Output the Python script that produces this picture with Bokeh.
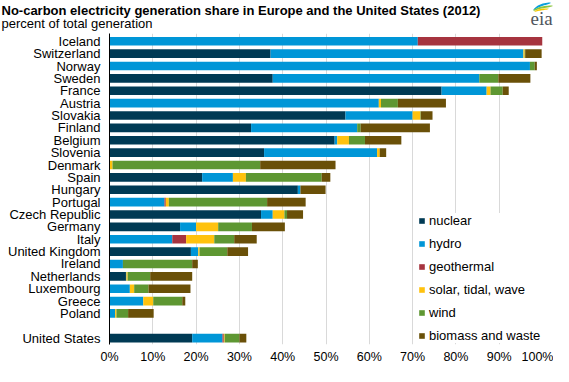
from bokeh.plotting import figure
from bokeh.layouts import column
from bokeh.models import (ColumnDataSource, Range1d, FixedTicker, PrintfTickFormatter,
                          Label, Legend, LegendItem, PolyAnnotation)
from bokeh.embed import file_html
from bokeh.resources import INLINE

countries = ["Iceland", "Switzerland", "Norway", "Sweden", "France", "Austria", "Slovakia",
             "Finland", "Belgium", "Slovenia", "Denmark", "Spain", "Hungary", "Portugal",
             "Czech Republic", "Germany", "Italy", "United Kingdom", "Ireland", "Netherlands",
             "Luxembourg", "Greece", "Poland", "United States"]
nuclear    = [0, 37.2, 0, 37.7, 76.7, 0, 54.5, 32.7, 52.0, 35.7, 0, 21.4, 43.5, 0, 35.0, 16.3, 0, 18.8, 0, 3.8, 0, 0, 0, 19.1]
hydro      = [71.2, 58.4, 97.1, 47.7, 10.4, 62.2, 15.5, 24.5, 0.6, 26.1, 0.1, 7.1, 0.6, 12.7, 2.7, 3.7, 14.5, 1.7, 3.1, 0.1, 4.7, 7.8, 1.3, 7.0]
geothermal = [28.8, 0, 0, 0, 0, 0, 0, 0, 0, 0, 0, 0, 0, 0.3, 0, 0, 3.2, 0, 0, 0, 0, 0, 0, 0.3]
solar      = [0, 0.3, 0, 0, 0.9, 0.5, 1.8, 0, 2.7, 0.6, 0.6, 3.0, 0, 0.7, 2.7, 5.1, 6.5, 0.3, 0, 0.3, 1.0, 2.3, 0.3, 0.2]
wind       = [0, 0.1, 1.1, 4.4, 2.8, 3.9, 0.1, 0.8, 3.7, 0, 34.1, 17.5, 0, 22.7, 0.6, 7.8, 4.6, 6.4, 16.0, 5.2, 3.3, 6.7, 2.7, 3.4]
biomass    = [0, 3.8, 0.5, 7.4, 1.4, 11.1, 2.7, 16.0, 8.4, 1.5, 17.4, 2.0, 5.8, 8.9, 3.7, 7.6, 5.2, 4.8, 1.3, 9.7, 9.7, 0.7, 5.9, 1.6]

series_names = ["nuclear", "hydro", "geothermal", "solar, tidal, wave", "wind", "biomass and waste"]
series_keys = ["nuclear", "hydro", "geothermal", "solar", "wind", "biomass"]
colors = ["#003A54", "#0096D7", "#A6343F", "#FFC20E", "#5E9732", "#6A5008"]
x_ticks = [0, 10, 20, 30, 40, 50, 60, 70, 80, 90, 100]

title_text = "No-carbon electricity generation share in Europe and the United States (2012)"
subtitle_text = "percent of total generation"

# row positions: European countries in order, one blank row before the United States
rows = [i if i < len(countries) - 1 else i + 1 for i in range(len(countries))]

src = ColumnDataSource(dict(y=rows, nuclear=nuclear, hydro=hydro, geothermal=geothermal,
                            solar=solar, wind=wind, biomass=biomass))

FONT = "Liberation Sans"
W = 553
HEAD_H = 33
MAIN_H = 333
LEFT, RIGHT, BOTTOM = 109, 11, 20

# ---------------- header (title, subtitle, logo) ----------------
head = figure(width=W, height=HEAD_H, output_backend="svg", toolbar_location=None,
              x_range=Range1d(0, W), y_range=Range1d(HEAD_H, 0),
              x_axis_type=None, y_axis_type=None,
              min_border=0, min_border_left=0, min_border_right=0,
              min_border_top=0, min_border_bottom=0,
              outline_line_color=None)
head.grid.visible = False
head.frame_align = False

head.add_layout(Label(x=1, y=10, text=title_text, text_font=FONT, text_font_size="13px",
                      text_font_style="bold", text_color="black", text_baseline="alphabetic"))
head.add_layout(Label(x=1, y=23, text=subtitle_text, text_font=FONT, text_font_size="13px",
                      text_color="black", text_baseline="alphabetic"))
head.add_layout(Label(x=530, y=18, text="eia", text_font="Liberation Serif",
                      text_font_size="19px", text_color="#50555C", text_baseline="alphabetic"))


def swoosh(p0, p1, p2, thick, n=14):
    top, bot = [], []
    for k in range(n + 1):
        t = k / n
        x = (1 - t) ** 2 * p0[0] + 2 * (1 - t) * t * p1[0] + t ** 2 * p2[0]
        y = (1 - t) ** 2 * p0[1] + 2 * (1 - t) * t * p1[1] + t ** 2 * p2[1]
        w = thick * (0.35 + 0.65 * (4 * t * (1 - t)) ** 0.5)
        top.append((x, y))
        bot.append((x, y + w))
    pts = top + bot[::-1]
    return [a for a, _ in pts], [b for _, b in pts]


for (p0, p1, p2, th, col) in [((533, 9), (538, 2.5), (550, 2.0), 2.2, "#0AA0DC"),
                              ((533, 9.5), (540, 4.8), (552, 5.0), 2.0, "#8CC63F"),
                              ((534, 10.5), (540, 7.5), (548, 8.0), 1.6, "#F5C900")]:
    xs, ys = swoosh(p0, p1, p2, th)
    head.add_layout(PolyAnnotation(xs=xs, ys=ys, fill_color=col, fill_alpha=1.0, line_color=None))

# ---------------- main chart ----------------
p = figure(width=W, height=MAIN_H, output_backend="svg", toolbar_location=None,
           x_range=Range1d(0, 100), y_range=Range1d(24.51, -0.63),
           min_border_left=LEFT, min_border_right=RIGHT, min_border_top=0,
           min_border_bottom=BOTTOM, outline_line_color=None)
p.frame_align = False

renderers = p.hbar_stack(series_keys, y="y", height=0.7, color=colors, source=src, line_color=None)

p.xgrid.ticker = FixedTicker(ticks=x_ticks)
p.xgrid.grid_line_color = "#D9D9D9"
p.ygrid.grid_line_color = None

p.xaxis.ticker = FixedTicker(ticks=x_ticks)
p.xaxis.formatter = PrintfTickFormatter(format="%d%%")
p.xaxis.axis_line_color = None
p.xaxis.major_tick_line_color = None
p.xaxis.minor_tick_line_color = None
p.xaxis.major_tick_out = 0
p.xaxis.major_tick_in = 0
p.xaxis.minor_tick_out = 0
p.xaxis.major_label_standoff = 5
p.xaxis.major_label_text_font = FONT
p.xaxis.major_label_text_font_size = "12.5px"
p.xaxis.major_label_text_color = "black"

p.yaxis.ticker = FixedTicker(ticks=rows)
p.yaxis.major_label_overrides = {r: c for r, c in zip(rows, countries)}
p.yaxis.axis_line_color = "black"
p.yaxis.major_tick_line_color = None
p.yaxis.minor_tick_line_color = None
p.yaxis.major_tick_out = 0
p.yaxis.major_tick_in = 0
p.yaxis.minor_tick_out = 0
p.yaxis.major_label_standoff = 9
p.yaxis.major_label_text_font = FONT
p.yaxis.major_label_text_font_size = "13px"
p.yaxis.major_label_text_color = "black"

legend = Legend(items=[LegendItem(label=n, renderers=[r]) for n, r in zip(series_names, renderers)],
                location=(309, 1), padding=2, margin=0, border_line_color=None,
                background_fill_color="white", background_fill_alpha=1.0,
                glyph_width=7, glyph_height=7, label_standoff=4, spacing=8, label_height=14,
                label_text_font=FONT, label_text_font_size="13px", label_text_color="black")
p.add_layout(legend, "center")

layout = column(head, p, spacing=0)

open("out.html", "w").write(file_html(layout, INLINE))
